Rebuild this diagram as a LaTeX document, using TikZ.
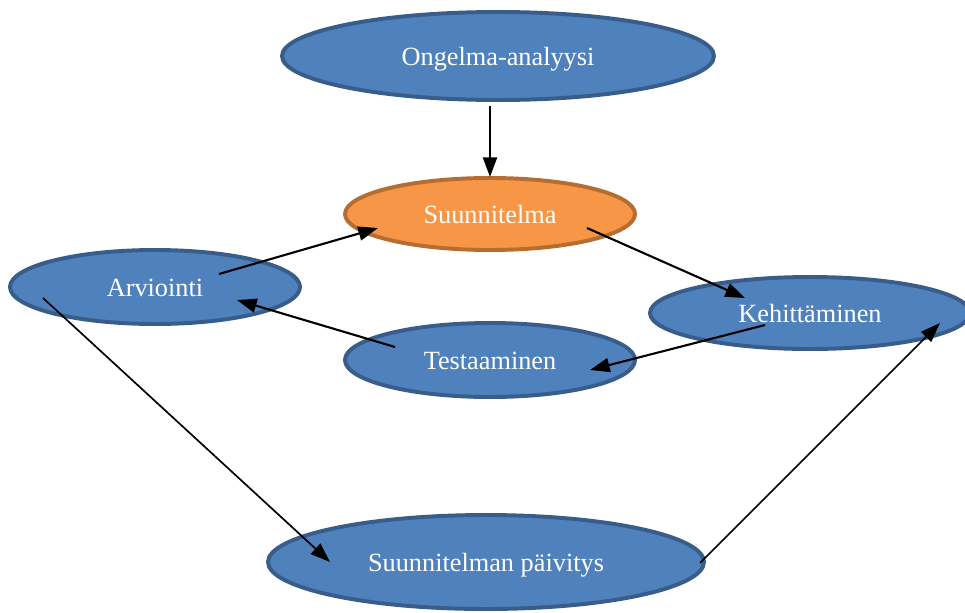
\documentclass[tikz,border=0pt]{standalone}
\usepackage{fontspec}
\setmainfont{Liberation Serif}
\usepackage{xcolor}
\usetikzlibrary{positioning,shapes.geometric,arrows.meta}
\definecolor{sininen}{HTML}{4F81BD}
\definecolor{sinireuna}{HTML}{385D8A}
\definecolor{oranssi}{HTML}{F79646}
\definecolor{oranssireuna}{HTML}{B66D31}
\tikzset{
  vaihe/.style={ellipse, draw=sinireuna, fill=sininen, line width=2.8pt, text=white, inner sep=0pt,
    text height=18pt, text depth=4pt, font=\fontsize{18.7}{22}\selectfont},
  nuoli/.style={-{Triangle[length=14pt,width=10pt]}, line width=1.5pt}
}

\begin{document}
\begin{tikzpicture}[x=0.025cm, y=-0.025cm]
    \useasboundingbox (0,0) rectangle (965,612);
    \node[vaihe, minimum width=432*0.025cm, minimum height=88*0.025cm] (ong) at (498,56) {Ongelma-analyysi};
    \node[vaihe, draw=oranssireuna, fill=oranssi, minimum width=290*0.025cm, minimum height=72*0.025cm] (suu) at (490,214) {Suunnitelma};
    \node[vaihe, minimum width=290*0.025cm, minimum height=74*0.025cm] (arv) at (155,287) {Arviointi};
    \node[vaihe, minimum width=320*0.025cm, minimum height=72*0.025cm] (keh) at (810,313) {Kehittäminen};
    \node[vaihe, minimum width=290*0.025cm, minimum height=74*0.025cm] (tes) at (490,360) {Testaaminen};
    \node[vaihe, minimum width=436*0.025cm, minimum height=94*0.025cm] (pai) at (486,562) {Suunnitelman päivitys};

    %nuolten päät
    \coordinate (ong1) at (490,106);  \coordinate (suu1) at (490,177);
    \coordinate (arv1) at (219,274);  \coordinate (suu2) at (378,228);
    \coordinate (suu3) at (587,228);  \coordinate (keh1) at (745,298);
    \coordinate (keh2) at (765,325);  \coordinate (tes1) at (590,370);
    \coordinate (tes2) at (395,347);  \coordinate (arv2) at (237,300);
    \coordinate (arv3) at (43,298);   \coordinate (pai1) at (330,562);
    \coordinate (pai2) at (700,563);  \coordinate (keh3) at (940,323);

    %nuolet
    \draw[nuoli] (ong1) -- (suu1);
    \draw[nuoli] (arv1) -- (suu2);
    \draw[nuoli] (suu3) -- (keh1);
    \draw[nuoli] (keh2) -- (tes1);
    \draw[nuoli] (tes2) -- (arv2);
    \draw[nuoli, line width=1.2pt] (arv3) -- (pai1);
    \draw[nuoli, line width=1.2pt] (pai2) -- (keh3);
\end{tikzpicture}
\end{document}
